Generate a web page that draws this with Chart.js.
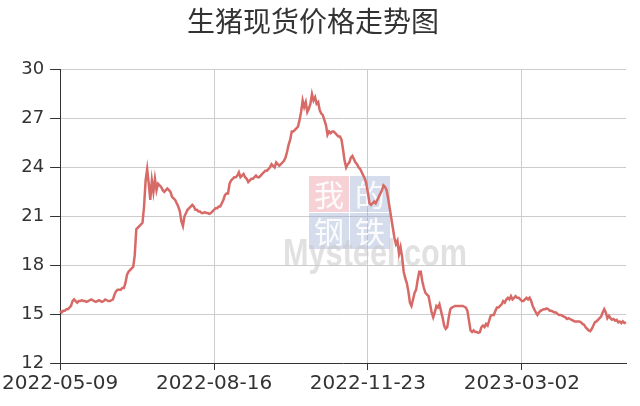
<!DOCTYPE html>
<html>
<head>
<meta charset="utf-8">
<script src="https://cdn.jsdelivr.net/npm/chart.js@4.4.0/dist/chart.umd.min.js"></script>
<style>
  html, body { margin: 0; padding: 0; background: #fff; }
  #wrap { width: 640px; height: 406px; }
</style>
</head>
<body>
<div id="wrap"><canvas id="lineChart" width="640" height="406"></canvas></div>
<script>
// 生猪现货价格（元/公斤），每日一个点，从 2022-05-09 开始
const startDate = [2022, 4, 9]
const labelStep = 99
const yMin = 12
const yMax = 30
const yStep = 3

const prices = [
  15.2, 15.1, 15.2, 15.2, 15.3, 15.3, 15.4, 15.5, 15.8, 15.9,
  15.8, 15.7, 15.8, 15.8, 15.85, 15.8, 15.8, 15.75, 15.8, 15.85,
  15.9, 15.85, 15.8, 15.75, 15.8, 15.85, 15.8, 15.75, 15.8, 15.9,
  15.85, 15.8, 15.8, 15.85, 15.9, 16.2, 16.4, 16.5, 16.5, 16.5,
  16.6, 16.6, 16.9, 17.4, 17.6, 17.7, 17.8, 17.9, 18.6, 20.2,
  20.3, 20.4, 20.5, 20.6, 21.6, 23.2, 23.9, 23.0, 22.0, 23.2,
  22.5, 23.3, 22.6, 23.0, 22.9, 22.8, 22.6, 22.5, 22.6, 22.7,
  22.6, 22.5, 22.2, 22.1, 22.0, 21.8, 21.6, 21.3, 20.7, 20.4,
  21.0, 21.2, 21.4, 21.5, 21.6, 21.7, 21.6, 21.4, 21.4, 21.3,
  21.3, 21.2, 21.2, 21.25, 21.2, 21.2, 21.15, 21.2, 21.3, 21.4,
  21.5, 21.5, 21.6, 21.6, 21.8, 22.0, 22.3, 22.4, 22.4, 23.0,
  23.2, 23.3, 23.4, 23.4, 23.5, 23.7, 23.4, 23.5, 23.6, 23.4,
  23.3, 23.1, 23.2, 23.3, 23.3, 23.4, 23.5, 23.4, 23.4, 23.5,
  23.6, 23.7, 23.8, 23.8, 23.9, 24.0, 24.2, 24.1, 24.0, 24.3,
  24.2, 24.1, 24.2, 24.3, 24.4, 24.6, 24.96, 25.4, 25.7, 26.2,
  26.2, 26.3, 26.4, 26.5, 26.9, 27.4, 28.1, 27.7, 28.0, 27.4,
  27.6, 27.9, 28.5, 28.1, 28.3, 27.9, 28.0, 27.5, 27.3, 27.2,
  26.9, 26.6, 26.0, 26.2, 26.1, 26.2, 26.2, 26.1, 26.0, 25.9,
  25.9, 25.7, 25.1, 24.4, 24.0, 24.2, 24.3, 24.6, 24.7, 24.5,
  24.3, 24.2, 24.0, 23.9, 23.7, 23.5, 23.3, 23.0, 22.4, 21.8,
  21.7, 21.8, 21.9, 21.8, 22.0, 22.2, 22.4, 22.6, 22.9, 22.8,
  22.6, 22.1, 21.5, 20.9, 20.3, 19.7, 19.3, 19.5, 18.7, 19.1,
  18.5, 17.6, 17.2, 16.9, 16.4, 15.7, 15.5, 15.9, 16.3, 16.5,
  17.1, 17.6, 17.6, 17.0, 16.6, 16.3, 16.2, 16.1, 15.6, 15.1,
  14.8, 15.1, 15.5, 15.4, 15.6, 15.2, 14.8, 14.3, 14.1, 14.2,
  14.8, 15.3, 15.4, 15.45, 15.5, 15.5, 15.5, 15.5, 15.5, 15.5,
  15.45, 15.4, 15.2, 14.6, 14.0, 13.9, 14.0, 13.9, 13.9, 13.85,
  13.9, 14.2, 14.3, 14.2, 14.4, 14.3, 14.6, 14.9, 14.95, 14.95,
  15.2, 15.4, 15.4, 15.5, 15.6, 15.8, 15.7, 15.9, 16.0, 15.9,
  16.1, 15.9, 16.0, 16.1, 16.0, 16.0, 15.9, 15.8, 15.8, 15.9,
  16.0, 15.9, 16.0, 15.8, 15.5, 15.3, 15.1, 14.95, 15.1, 15.2,
  15.25, 15.3, 15.3, 15.35, 15.3, 15.2, 15.2, 15.15, 15.1, 15.1,
  15.0, 14.95, 14.95, 14.9, 14.85, 14.8, 14.7, 14.75, 14.7, 14.65,
  14.6, 14.55, 14.55, 14.55, 14.55, 14.5, 14.4, 14.35, 14.2, 14.1,
  14.0, 13.95, 14.1, 14.3, 14.5, 14.55, 14.65, 14.75, 14.85, 15.1,
  15.3, 15.1, 14.75, 14.9, 14.75, 14.65, 14.7, 14.6, 14.65, 14.5,
  14.55, 14.45, 14.55, 14.45, 14.5
]

// 日期标签
const labels = prices.map((_, i) => {
  const d = new Date(Date.UTC(startDate[0], startDate[1], startDate[2] + i))
  return d.toISOString().slice(0, 10)
})

// 水印：我的钢铁 Mysteel.com
const watermark = {
  id: 'watermark',
  beforeDatasetsDraw(chart) {
    const ctx = chart.ctx
    ctx.save()
    const blocks = [
      { t: '我', x: 309, y: 176, c: 'rgba(232,140,150,0.4)' },
      { t: '的', x: 350, y: 176, c: 'rgba(150,170,210,0.4)' },
      { t: '钢', x: 309, y: 213, c: 'rgba(150,170,210,0.4)' },
      { t: '铁', x: 350, y: 213, c: 'rgba(150,170,210,0.4)' },
    ]
    blocks.forEach(b => {
      ctx.fillStyle = b.c
      ctx.fillRect(b.x, b.y, 40, 36)
      ctx.fillStyle = 'rgba(255,255,255,0.9)'
      ctx.font = '30px "Noto Sans CJK SC"'
      ctx.textAlign = 'center'
      ctx.textBaseline = 'middle'
      ctx.fillText(b.t, b.x + 20, b.y + 19)
    })
    ctx.font = 'bold 38px "Liberation Sans"'
    ctx.fillStyle = 'rgba(200,200,200,0.55)'
    ctx.textAlign = 'left'
    ctx.textBaseline = 'alphabetic'
    const w = ctx.measureText('Mysteel.com').width
    ctx.translate(283, 266)
    ctx.scale(184 / w, 1)
    ctx.fillText('Mysteel.com', 0, 0)
    ctx.restore()
  }
}

function renderChart() {
  const ctx = document.getElementById('lineChart').getContext('2d')
  new Chart(ctx, {
    type: 'line',
    data: {
      labels: labels,
      datasets: [{
        label: '生猪现货价格',
        data: prices,
        borderColor: '#d76a66',
        borderWidth: 2.5,
        pointRadius: 0,
        tension: 0,
        fill: false,
      }]
    },
    options: {
      responsive: false,
      animation: false,
      layout: { padding: { top: 0, right: 14, left: 0, bottom: 0 } },
      plugins: {
        legend: { display: false },
        tooltip: { enabled: false },
        title: {
          display: true,
          text: '生猪现货价格走势图',
          color: '#333',
          font: { family: '"Noto Sans CJK SC"', size: 28, weight: 'normal' },
          padding: { top: 5, bottom: 31 },
        },
      },
      scales: {
        x: {
          type: 'category',
          border: { color: '#333', width: 1 },
          grid: { color: '#ccc', tickColor: '#333', tickLength: 7 },
          ticks: {
            autoSkip: false,
            maxRotation: 0,
            color: '#333',
            padding: 2,
            font: { family: '"DejaVu Sans"', size: 20 },
            callback: function (val, i) {
              return i % labelStep === 0 ? labels[i] : null
            }
          },
          afterFit(scale) { scale.height = 43 }
        },
        y: {
          min: yMin,
          max: yMax,
          border: { color: '#333', width: 1 },
          grid: { color: '#ccc', tickColor: '#333', tickLength: 10 },
          ticks: {
            stepSize: yStep,
            color: '#333',
            padding: 6,
            font: { family: '"DejaVu Sans"', size: 18 },
          },
          afterFit(scale) { scale.width = 59 }
        }
      }
    },
    plugins: [watermark]
  })
}

document.addEventListener('DOMContentLoaded', renderChart)
</script>
</body>
</html>
